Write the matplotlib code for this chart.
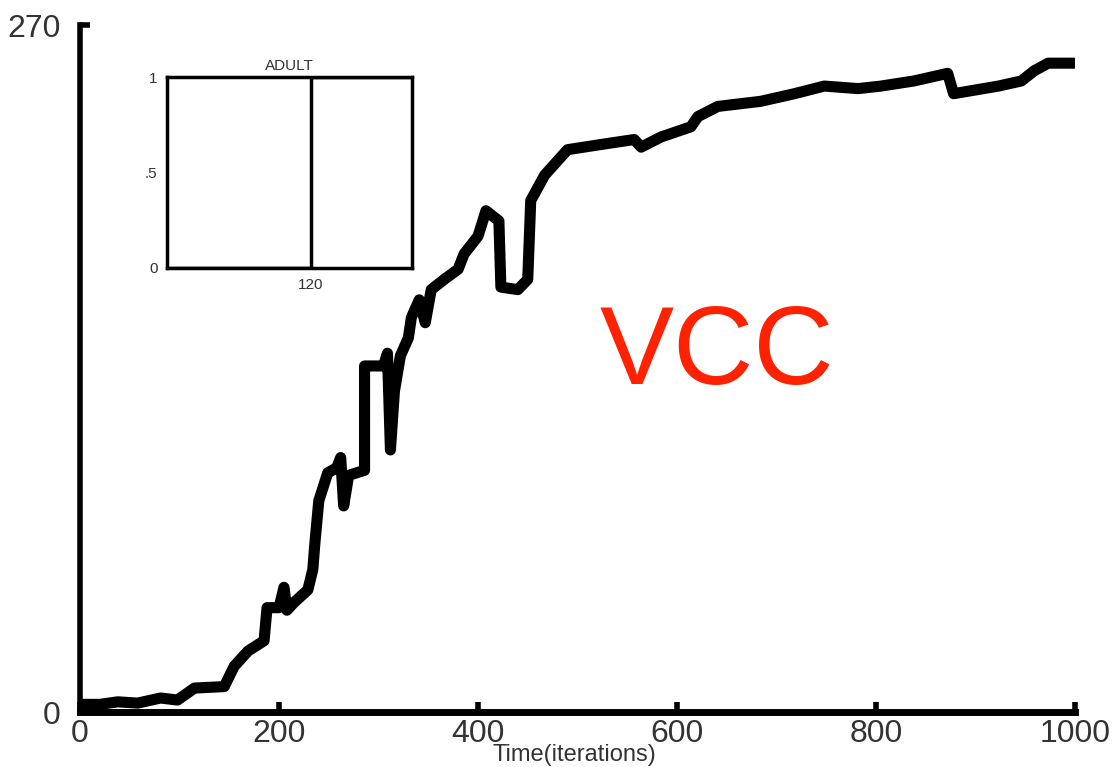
import matplotlib
matplotlib.use("Agg")
import matplotlib.pyplot as plt

# Main series (VCC)
iterations = [0, 20, 38, 58, 81, 98, 115, 145, 155, 169, 185, 188, 200, 205, 208,
              215, 229, 234, 236, 240, 249, 258, 262, 265, 270, 286, 286, 305,
              309, 312, 316, 322, 330, 333, 341, 347, 353, 366, 380, 386, 400,
              408, 421, 423, 440, 450, 453, 460, 467, 490, 523, 557, 564, 584,
              614, 621, 641, 684, 718, 748, 782, 805, 838, 872, 878, 923, 946,
              959, 973, 999]
values = [3, 3, 4, 3.5, 5.5, 4.7, 9.4, 10, 18, 24, 28, 41, 41, 49, 40,
          43, 48, 56, 66, 83, 94, 96, 100, 81, 93, 95, 136, 136,
          141, 103, 126, 140, 147, 155, 162, 153, 166, 170, 174, 180, 187,
          197, 193, 167, 166, 170, 201, 206, 211, 221, 223, 225, 222, 226,
          230, 234, 238, 240, 243, 246, 245, 246, 248, 251, 243, 246, 248,
          252, 255, 255]

x_ticks = [0, 200, 400, 600, 800, 1000]
y_ticks = [0, 270]

# Inset (ADULT)
inset_x = [0, 120, 120, 205]
inset_y = [0, 0, 1, 1]
inset_yticks = [0, 0.5, 1]
inset_yticklabels = ["0", ".5", "1"]
inset_xticks = [120]

font = ["Liberation Sans Narrow", "Liberation Sans", "DejaVu Sans"]

fig = plt.figure(figsize=(11.14, 7.67), dpi=100)
ax = fig.add_axes([0.0718, 0.0717, 0.8932, 0.8957])
ax.plot(iterations, values, color="black", lw=8, solid_joinstyle="round",
        solid_capstyle="round")
ax.set_xlim(0, 1000)
ax.set_ylim(0, 270)
ax.set_xticks(x_ticks)
ax.set_yticks(y_ticks)
ax.tick_params(direction="in", length=7, width=4, labelsize=23,
               colors="black", labelcolor="#333333")
ax.tick_params(axis="x", pad=5)
ax.tick_params(axis="y", pad=14)
for lab in ax.get_xticklabels() + ax.get_yticklabels():
    lab.set_family(font)
for s in ["top", "right"]:
    ax.spines[s].set_visible(False)
ax.spines["left"].set_linewidth(4)
ax.spines["bottom"].set_linewidth(5)

fig.text(0.516, 0.001, "Time(iterations)", ha="center", va="bottom",
         fontsize=17, family=font, color="#333333")

ax.text(0.64, 0.52, "VCC", transform=ax.transAxes, color="#ff2200",
        fontsize=80, family=["Liberation Sans", "DejaVu Sans"],
        ha="center", va="center")

ins = fig.add_axes([0.150, 0.6506, 0.220, 0.249])
ins.plot(inset_x, inset_y, color="black", lw=2.5)
ins.set_xlim(0, 205)
ins.set_ylim(0, 1)
ins.set_xticks(inset_xticks)
ins.set_yticks(inset_yticks)
ins.set_yticklabels(inset_yticklabels)
ins.tick_params(length=0, labelsize=11, pad=7, labelcolor="#333333")
for s in ins.spines.values():
    s.set_linewidth(2.5)
ins.set_title("ADULT", fontsize=11, color="#333333", pad=5,
              family=["Liberation Sans", "DejaVu Sans"])
for lab in ins.get_xticklabels() + ins.get_yticklabels():
    lab.set_family(["Liberation Sans", "DejaVu Sans"])

fig.savefig("out.png", dpi=100)
